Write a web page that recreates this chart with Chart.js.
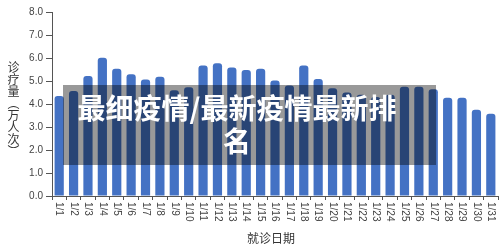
<!DOCTYPE html>
<html>
<head>
<meta charset="utf-8">
<script src="https://cdn.jsdelivr.net/npm/chart.js@4"></script>
<style>
  html, body { margin: 0; padding: 0; background: #fff; }
  #wrap { position: relative; width: 500px; height: 250px; overflow: hidden; }
  #yTitle {
    position: absolute; left: 6px; top: 61px;
    writing-mode: vertical-rl;
    font: 12px "Noto Sans CJK SC", sans-serif; color: #333; line-height: 14px;
  }
  #xTitle {
    position: absolute; left: 247px; top: 229px;
    font: 12px "Noto Sans CJK SC", sans-serif; color: #333;
  }
  #banner {
    position: absolute; left: 63px; top: 85px; width: 373px; height: 80px;
    background: rgba(0, 0, 0, 0.4);
  }
  #bannerText {
    position: absolute; left: 72px; top: 91px; width: 330px;
    text-align: center; color: #fff;
    font: bold 28px "Noto Sans CJK SC", sans-serif; line-height: 33px;
  }
</style>
</head>
<body>
<div id="wrap">
  <canvas id="myChart" width="500" height="250"></canvas>
  <div id="yTitle">诊疗量（万人次）</div>
  <div id="xTitle">就诊日期</div>
  <div id="banner"></div>
  <div id="bannerText">最细疫情/最新疫情最新排名</div>
</div>
<script>
// data
const days = ['1/1', '1/2', '1/3', '1/4', '1/5', '1/6', '1/7', '1/8', '1/9', '1/10',
    '1/11', '1/12', '1/13', '1/14', '1/15', '1/16', '1/17', '1/18', '1/19', '1/20',
    '1/21', '1/22', '1/23', '1/24', '1/25', '1/26', '1/27', '1/28', '1/29', '1/30', '1/31'];
const visits = [4.35, 4.57, 5.22, 6.01, 5.53, 5.29, 5.07, 5.19, 4.6, 4.73,
    5.67, 5.77, 5.59, 5.48, 5.53, 5.02, 4.8, 5.67, 5.09, 4.69,
    4.5, 4.4, 4.3, 4.4, 4.75, 4.75, 4.64, 4.27, 4.27, 3.75, 3.58];
const yTicks = [0, 1, 2, 3, 4, 5, 6, 7, 8];

// x labels rotated clockwise (read top to bottom)
const xLabels = {
    id: 'xLabels',
    afterDraw(chart) {
        const ctx = chart.ctx;
        const x = chart.scales.x;
        ctx.save();
        ctx.fillStyle = '#444';
        ctx.font = '10px "Liberation Sans"';
        ctx.textAlign = 'left';
        ctx.textBaseline = 'middle';
        days.forEach((d, i) => {
            ctx.save();
            ctx.translate(x.getPixelForValue(i), x.top + 6);
            ctx.rotate(Math.PI / 2);
            ctx.fillText(d, 0, 0);
            ctx.restore();
        });
        ctx.restore();
    }
};

let ctx = document.getElementById('myChart');
let myChart = new Chart(ctx, {
    type: 'bar',
    data: {
        labels: days,
        datasets: [{
            data: visits,
            backgroundColor: '#4472C4',
            borderRadius: { topLeft: 3, topRight: 3 },
            borderSkipped: 'bottom',
            categoryPercentage: 1,
            barPercentage: 0.64
        }]
    },
    options: {
        responsive: false,
        animation: false,
        layout: { padding: { top: 12, right: 2, left: 0, bottom: 0 } },
        plugins: { legend: { display: false }, tooltip: { enabled: false } },
        scales: {
            x: {
                ticks: { display: false },
                grid: { drawOnChartArea: false, drawTicks: true, tickLength: 4, color: '#555' },
                border: { color: '#555' },
                afterFit(s) { s.height = 54; }
            },
            y: {
                min: 0, max: 8,
                afterBuildTicks(s) { s.ticks = yTicks.map(v => ({ value: v })); },
                ticks: {
                    padding: 3, color: '#444',
                    font: { family: 'Liberation Sans', size: 10 },
                    callback: v => v.toFixed(1)
                },
                grid: { drawOnChartArea: false, drawTicks: true, tickLength: 6, color: '#555' },
                border: { color: '#555' },
                afterFit(s) { s.width = 52; }
            }
        }
    },
    plugins: [xLabels]
});
</script>
</body>
</html>
